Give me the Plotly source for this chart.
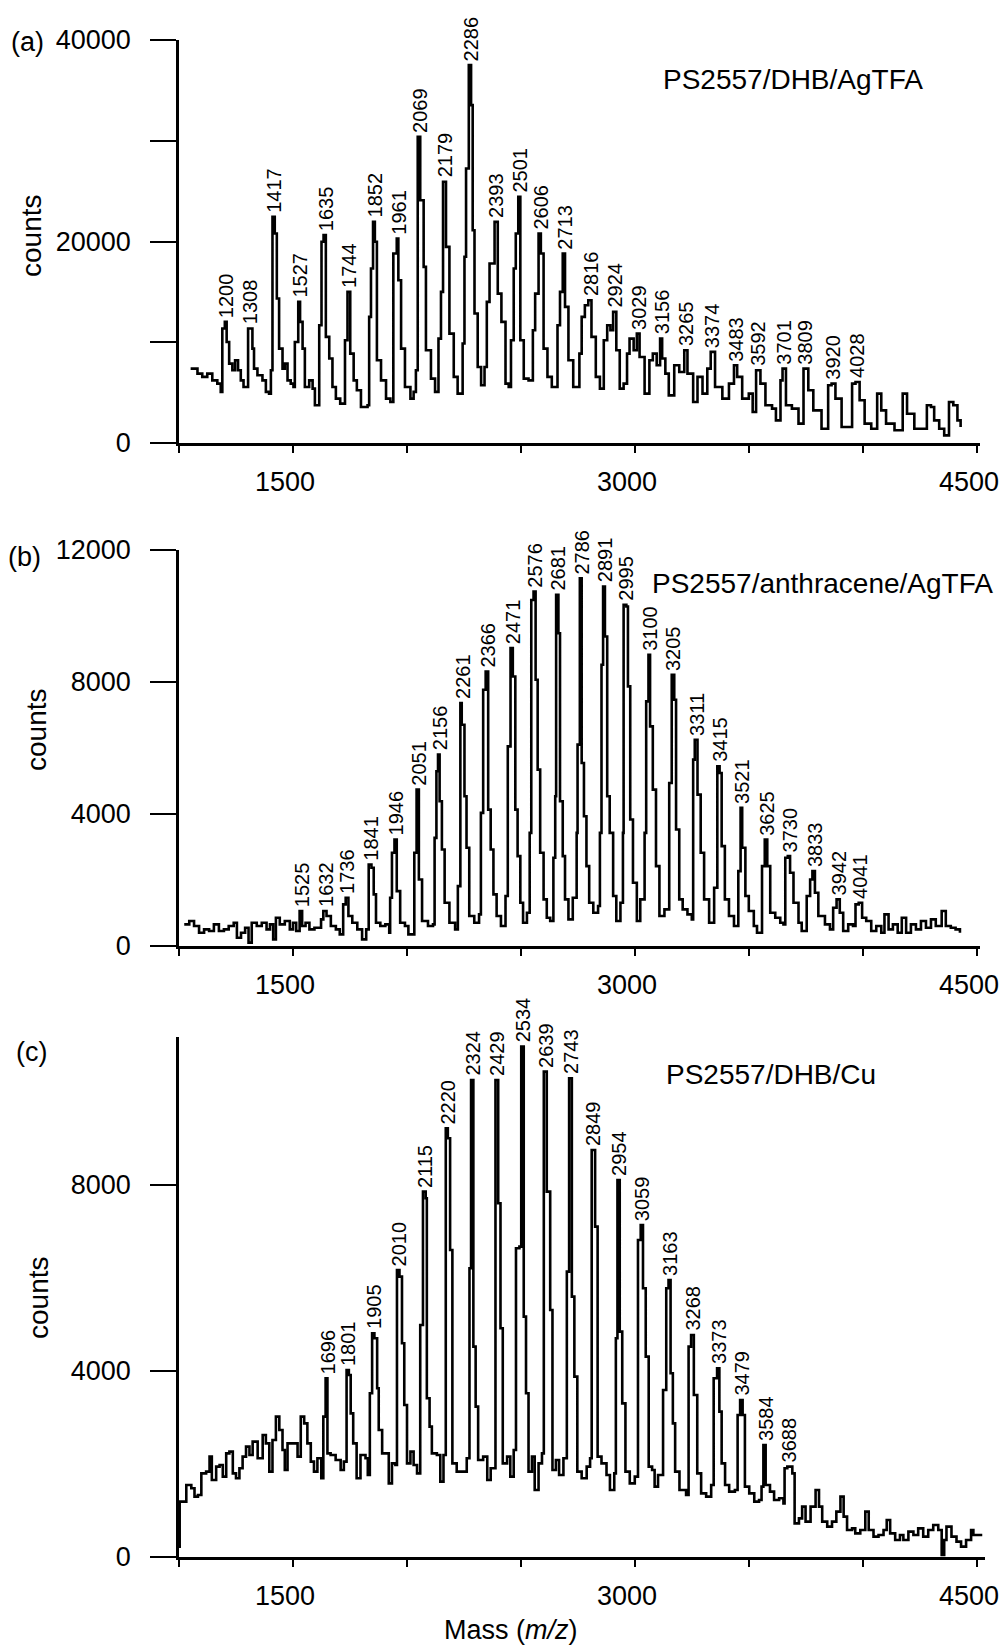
import plotly.graph_objects as go

W, H = 1002, 1646
FONT = "Liberation Sans, Arial, Helvetica, sans-serif"

def px(x):
    return x / W

def py(y):
    return 1 - y / H

# ---------------- Panel (a): PS2557/DHB/AgTFA ----------------
mass_a = [1051, 1081, 1102, 1124, 1146, 1168, 1183, 1190, 1201, 1209, 1220, 1234, 1246, 1259, 1271, 1283,
          1303, 1322, 1329, 1344, 1366, 1381, 1395, 1403, 1410, 1420, 1429, 1439, 1454, 1464, 1476, 1490,
          1502, 1508, 1523, 1531, 1542, 1552, 1571, 1586, 1596, 1615, 1625, 1634, 1644, 1659, 1673, 1688,
          1707, 1728, 1739, 1751, 1766, 1780, 1798, 1827, 1834, 1842, 1851, 1859, 1868, 1886, 1908, 1927,
          1940, 1955, 1962, 1974, 1991, 2015, 2029, 2039, 2047, 2058, 2073, 2083, 2105, 2123, 2138, 2149,
          2158, 2171, 2186, 2205, 2222, 2244, 2252, 2259, 2271, 2281, 2288, 2296, 2310, 2325, 2340, 2350,
          2362, 2384, 2398, 2414, 2432, 2446, 2456, 2468, 2477, 2488, 2497, 2512, 2533, 2552, 2562, 2577,
          2587, 2599, 2616, 2635, 2660, 2671, 2683, 2693, 2708, 2729, 2756, 2766, 2780, 2795, 2809, 2828,
          2846, 2863, 2878, 2892, 2904, 2918, 2933, 2950, 2965, 2976, 2994, 3008, 3020, 3042, 3063, 3078,
          3095, 3110, 3119, 3133, 3148, 3172, 3194, 3216, 3230, 3255, 3274, 3296, 3317, 3332, 3351, 3383,
          3412, 3434, 3448, 3470, 3499, 3516, 3531, 3550, 3572, 3601, 3618, 3638, 3647, 3662, 3688, 3717,
          3739, 3760, 3782, 3818, 3847, 3862, 3879, 3906, 3927, 3952, 3967, 3985, 4007, 4036, 4062, 4080,
          4101, 4138, 4174, 4193, 4225, 4261, 4280, 4298, 4312, 4334, 4356, 4377, 4396, 4414, 4428]
counts_a = [7380, 6890, 6560, 6890, 6220, 5890, 5070, 11360, 12020, 10030, 7880, 7220, 8210, 7220, 6220, 5560,
            11360, 9370, 7380, 6720, 6220, 5070, 4900, 7220, 22450, 20790, 14340, 9370, 7380, 7880, 6220, 5890,
            5560, 10030, 14010, 12020, 9370, 5560, 6220, 5400, 3740, 11690, 19970, 20630, 10530, 8380, 5560, 4400,
            3910, 10200, 15000, 8870, 6220, 5230, 3580, 3740, 12520, 17320, 21950, 19970, 8210, 6220, 4400, 4070,
            18810, 20300, 16160, 9370, 5560, 4400, 5070, 7220, 30400, 24100, 17480, 9200, 6390, 5070, 10360, 15000,
            25930, 19470, 10860, 6560, 4900, 9870, 18480, 27250, 37510, 33540, 21120, 12850, 7550, 5730, 7550, 14010,
            17810, 21950, 14830, 12020, 5890, 5560, 10200, 17320, 20790, 24440, 10200, 6390, 6220, 11190, 14830, 20790,
            18810, 9370, 6560, 5560, 11690, 15000, 18810, 13510, 8210, 5560, 8870, 12520, 13670, 14170, 10530, 6560,
            5400, 10200, 11690, 11190, 13010, 9200, 5400, 5890, 8870, 10360, 9200, 10860, 8540, 4900, 8210, 8870,
            7710, 10360, 8380, 6890, 4730, 7710, 7050, 9200, 6890, 4070, 6560, 4900, 7380, 9040, 5560, 4400,
            5890, 7710, 6560, 4400, 4900, 3080, 7220, 5890, 3740, 3410, 2250, 6220, 7380, 3740, 3410, 1920,
            7380, 5230, 3240, 1420, 5730, 5890, 4400, 1590, 1590, 5890, 6060, 4240, 1920, 1420, 4900, 3240,
            1920, 1260, 4900, 2910, 1420, 1420, 3740, 3580, 2250, 1420, 760, 4070, 3740, 2250, 1590]
labels_a = ["1200", "1308", "1417", "1527", "1635", "1744", "1852", "1961", "2069", "2179", "2286", "2393",
            "2501", "2606", "2713", "2816", "2924", "3029", "3156", "3265", "3374", "3483", "3592", "3701",
            "3809", "3920", "4028"]
label_x_a = [1201, 1303, 1410, 1523, 1634, 1739, 1851, 1955, 2047, 2158, 2271, 2384,
             2488, 2577, 2683, 2795, 2904, 3008, 3110, 3216, 3332, 3434, 3531, 3647,
             3739, 3862, 3967]
label_y_a = [12020, 11360, 22450, 14010, 20630, 15000, 21950, 20300, 30400, 25930, 37510, 21950,
             24440, 20790, 18810, 14170, 13010, 10860, 10360, 9200, 9040, 7710, 7220, 7380,
             7380, 5890, 6060]

# ---------------- Panel (b): PS2557/anthracene/AgTFA ----------------
mass_b = [1023, 1045, 1066, 1088, 1110, 1132, 1153, 1175, 1197, 1218, 1240, 1254, 1272, 1290, 1305, 1319,
          1341, 1363, 1384, 1399, 1413, 1425, 1442, 1464, 1486, 1500, 1514, 1529, 1540, 1555, 1572, 1594,
          1623, 1633, 1647, 1666, 1688, 1705, 1720, 1731, 1743, 1760, 1782, 1803, 1821, 1832, 1844, 1854,
          1864, 1883, 1905, 1922, 1926, 1934, 1945, 1955, 1970, 1991, 2006, 2032, 2042, 2052, 2066, 2092,
          2114, 2121, 2129, 2136, 2143, 2153, 2165, 2186, 2211, 2223, 2234, 2240, 2252, 2261, 2273, 2295,
          2316, 2324, 2334, 2345, 2356, 2367, 2379, 2393, 2412, 2432, 2442, 2454, 2464, 2475, 2485, 2497,
          2509, 2526, 2538, 2545, 2555, 2564, 2573, 2584, 2599, 2613, 2628, 2642, 2650, 2654, 2664, 2671,
          2683, 2693, 2708, 2727, 2744, 2748, 2758, 2766, 2776, 2787, 2799, 2817, 2838, 2846, 2853, 2860,
          2868, 2878, 2889, 2904, 2918, 2936, 2947, 2950, 2962, 2969, 2979, 2991, 3008, 3023, 3042, 3049,
          3059, 3066, 3078, 3092, 3107, 3129, 3150, 3161, 3172, 3180, 3194, 3209, 3230, 3249, 3255, 3262,
          3274, 3288, 3303, 3325, 3347, 3361, 3371, 3380, 3394, 3412, 3434, 3453, 3463, 3470, 3484, 3499,
          3521, 3535, 3557, 3569, 3580, 3593, 3615, 3637, 3651, 3659, 3670, 3680, 3695, 3717, 3731, 3753,
          3768, 3778, 3789, 3804, 3833, 3855, 3869, 3884, 3898, 3913, 3935, 3956, 3967, 3981, 3996, 4014,
          4036, 4058, 4080, 4094, 4112, 4131, 4152, 4170, 4189, 4210, 4232, 4254, 4276, 4298, 4319, 4345,
          4363, 4385, 4406, 4425]
counts_b = [655, 756, 605, 403, 504, 454, 655, 454, 504, 605, 706, 252, 403, 555, 101, 706,
            605, 706, 504, 655, 202, 857, 655, 756, 504, 706, 454, 1059, 605, 706, 504, 555,
            807, 1059, 908, 605, 504, 353, 1261, 1462, 908, 706, 504, 202, 504, 2471, 2370, 1563,
            706, 605, 655, 403, 1462, 2824, 3227, 1664, 706, 605, 353, 2824, 4740, 2017, 756, 605,
            655, 3277, 5294, 5798, 4387, 2924, 1311, 706, 504, 1815, 7361, 6706, 4538, 2975, 908, 706,
            958, 4034, 7765, 8320, 4134, 2924, 1563, 908, 605, 1513, 6050, 9025, 8168, 4134, 2723, 1311,
            706, 1008, 3429, 10487, 10740, 8067, 5345, 2824, 1412, 857, 756, 2672, 4538, 10639, 9479, 4387,
            2723, 1412, 807, 1462, 3429, 6101, 11143, 5546, 3933, 2420, 1311, 1008, 1210, 3429, 8521, 10891,
            9378, 4538, 3429, 1513, 756, 1311, 3429, 10336, 10286, 7866, 3832, 1916, 756, 1412, 3429, 7412,
            8823, 6655, 4740, 2420, 908, 1109, 4941, 8218, 7462, 3529, 1412, 1109, 958, 807, 5647, 6252,
            4588, 2824, 1412, 706, 1765, 5445, 5244, 3025, 1412, 908, 605, 2269, 4185, 2975, 1513, 1059,
            605, 403, 2420, 3227, 2420, 1008, 857, 706, 655, 2672, 2723, 2218, 1311, 706, 454, 1513,
            2017, 2269, 1613, 908, 655, 504, 1160, 1412, 1008, 454, 655, 605, 1261, 1311, 857, 756,
            454, 605, 403, 958, 504, 655, 403, 857, 403, 655, 504, 756, 555, 807, 605, 1059,
            605, 555, 504, 403]
labels_b = ["1525", "1632", "1736", "1841", "1946", "2051", "2156", "2261", "2366", "2471", "2576", "2681",
            "2786", "2891", "2995", "3100", "3205", "3311", "3415", "3521", "3625", "3730", "3833", "3942",
            "4041"]
label_x_b = [1529, 1633, 1731, 1832, 1945, 2042, 2136, 2234, 2345, 2454, 2555, 2654,
             2758, 2860, 2953, 3059, 3161, 3262, 3364, 3463, 3569, 3670, 3778, 3884,
             3981]
label_y_b = [1059, 1059, 1462, 2471, 3227, 4740, 5798, 7361, 8320, 9025, 10740, 10639,
             11143, 10891, 10336, 8823, 8218, 6252, 5445, 4185, 3227, 2723, 2269, 1412,
             1311]

# ---------------- Panel (c): PS2557/DHB/Cu ----------------
mass_c = [1000, 1003, 1032, 1054, 1068, 1083, 1098, 1119, 1134, 1144, 1163, 1178, 1192, 1207, 1221, 1236,
          1250, 1265, 1279, 1294, 1309, 1323, 1345, 1367, 1381, 1396, 1410, 1425, 1440, 1454, 1464, 1476,
          1498, 1520, 1534, 1549, 1563, 1578, 1592, 1607, 1624, 1633, 1643, 1651, 1665, 1687, 1709, 1723,
          1735, 1745, 1753, 1764, 1779, 1796, 1818, 1828, 1837, 1847, 1857, 1869, 1876, 1891, 1905, 1920,
          1934, 1949, 1956, 1967, 1978, 1988, 2000, 2015, 2029, 2044, 2058, 2070, 2082, 2087, 2099, 2109,
          2131, 2146, 2160, 2170, 2179, 2189, 2199, 2218, 2247, 2262, 2274, 2281, 2291, 2301, 2312, 2334,
          2352, 2367, 2388, 2400, 2410, 2420, 2439, 2453, 2468, 2478, 2493, 2501, 2512, 2522, 2533, 2548,
          2560, 2577, 2592, 2600, 2613, 2628, 2638, 2653, 2667, 2686, 2701, 2711, 2723, 2734, 2747, 2766,
          2788, 2803, 2810, 2825, 2836, 2853, 2875, 2890, 2909, 2916, 2923, 2933, 2944, 2958, 2977, 2999,
          3013, 3025, 3035, 3047, 3060, 3075, 3086, 3101, 3123, 3137, 3147, 3156, 3166, 3176, 3195, 3224,
          3235, 3246, 3258, 3273, 3290, 3312, 3334, 3345, 3360, 3370, 3380, 3395, 3413, 3438, 3450, 3461,
          3472, 3482, 3501, 3523, 3544, 3555, 3563, 3573, 3592, 3610, 3632, 3651, 3656, 3668, 3690, 3700,
          3719, 3733, 3748, 3770, 3792, 3807, 3821, 3843, 3864, 3883, 3901, 3915, 3930, 3952, 3966, 3988,
          4010, 4025, 4046, 4068, 4090, 4104, 4119, 4141, 4162, 4177, 4199, 4221, 4242, 4264, 4286, 4308,
          4330, 4345, 4356, 4366, 4388, 4410, 4430, 4452, 4474, 4484, 4504, 4523]
counts_c = [222, 1190, 1548, 1477, 1297, 1333, 1799, 1835, 2158, 1656, 1943, 1978, 1727, 2229, 2265, 1799,
            1692, 1907, 2158, 2373, 2193, 2480, 2122, 2623, 2444, 1835, 2516, 3018, 2731, 2301, 1871, 2444,
            2444, 2158, 3018, 2874, 2444, 2050, 1835, 2122, 1692, 3018, 3842, 2229, 2193, 2086, 1871, 2050,
            4021, 3914, 3089, 2444, 1692, 2193, 2122, 1763, 3520, 4810, 4702, 3627, 2731, 2229, 2229, 1584,
            2014, 1978, 6172, 6028, 4595, 3269, 2014, 2265, 1978, 1799, 4989, 7856, 7713, 3412, 2803, 2229,
            2193, 1620, 2193, 9218, 9003, 6602, 2014, 1835, 1835, 2122, 6207, 10257, 4523, 3233, 2086, 2158,
            1656, 1907, 10257, 7605, 4917, 2014, 2158, 1727, 2301, 6638, 6674, 10974, 5168, 3520, 1835, 2158,
            1441, 2014, 2229, 10436, 7856, 5311, 1871, 2086, 1763, 2122, 6136, 10293, 5598, 3878, 1835, 1692,
            1943, 2122, 8752, 7103, 2158, 2014, 1763, 1441, 1799, 4702, 8107, 4846, 3304, 1835, 1584, 1727,
            6817, 7139, 5777, 4308, 1943, 1871, 1512, 1763, 3591, 5777, 5957, 3950, 2874, 1835, 1441, 1333,
            4523, 4774, 3484, 1799, 1369, 1297, 1548, 3842, 4057, 3125, 2014, 1548, 1405, 1441, 3054, 3376,
            3054, 1512, 1369, 1190, 1226, 1512, 2408, 1548, 1405, 1226, 1262, 1154, 1907, 1943, 1799, 724,
            831, 1082, 760, 1082, 1441, 1082, 760, 652, 760, 975, 1297, 867, 581, 616, 509, 581,
            975, 581, 437, 473, 581, 796, 509, 366, 473, 366, 545, 473, 616, 437, 581, 688,
            581, 43, 366, 652, 437, 330, 222, 366, 581, 473, 473, 473]
labels_c = ["1696", "1801", "1905", "2010", "2115", "2220", "2324", "2429", "2534", "2639", "2743", "2849",
            "2954", "3059", "3163", "3268", "3373", "3479", "3584", "3688"]
label_x_c = [1643, 1735, 1847, 1956, 2070, 2170, 2281, 2388, 2501, 2600, 2711, 2810,
             2923, 3025, 3147, 3246, 3360, 3461, 3563, 3668]
label_y_c = [3842, 4021, 4810, 6172, 7856, 9218, 10257, 10257, 10974, 10436, 10293, 8752,
             8107, 7139, 5957, 4774, 4057, 3376, 2408, 1943]

# ---------------- Axis tick definitions ----------------
x_tickvals = [1000, 1500, 2000, 2500, 3000, 3500, 4000, 4500]
x_ticktext = ["", "1500", "", "", "3000", "", "", "4500"]
ya_tickvals = [0, 10000, 20000, 30000, 40000]
ya_ticktext = ["0", "", "20000", "", "40000"]
yb_tickvals = [0, 4000, 8000, 12000]
yb_ticktext = ["0", "4000", "8000", "12000"]
yc_tickvals = [0, 4000, 8000]
yc_ticktext = ["0", "4000", "8000"]

panel_titles = ["PS2557/DHB/AgTFA", "PS2557/anthracene/AgTFA", "PS2557/DHB/Cu"]
panel_tags = ["(a)", "(b)", "(c)"]

fig = go.Figure()
line_style = dict(color="black", width=2.6, shape="hv")
fig.add_trace(go.Scatter(x=mass_a, y=counts_a, mode="lines", line=line_style, xaxis="x", yaxis="y",
                         hoverinfo="skip"))
fig.add_trace(go.Scatter(x=mass_b, y=counts_b, mode="lines", line=line_style, xaxis="x2", yaxis="y2",
                         hoverinfo="skip"))
fig.add_trace(go.Scatter(x=mass_c, y=counts_c, mode="lines", line=line_style, xaxis="x3", yaxis="y3",
                         hoverinfo="skip"))

def xax(domain, rng, anchor):
    return dict(domain=domain, range=rng, anchor=anchor, showline=True, linecolor="black", linewidth=2.5,
                ticks="outside", ticklen=7, tickwidth=2.2, tickcolor="black",
                tickvals=x_tickvals, ticktext=x_ticktext, showgrid=False, zeroline=False,
                tickfont=dict(family=FONT, size=27, color="black"), ticklabelstandoff=6,
                ticklabelshift=-8, ticklabeloverflow="allow", automargin=False, fixedrange=True)

def yax(domain, rng, anchor, tv, tt):
    return dict(domain=domain, range=rng, anchor=anchor, showline=True, linecolor="black", linewidth=2.5,
                ticks="outside", ticklen=26, tickwidth=2.2, tickcolor="black",
                tickvals=tv, ticktext=tt, showgrid=False, zeroline=False,
                tickfont=dict(family=FONT, size=27, color="black"), ticklabelstandoff=14,
                automargin=False, fixedrange=True)

layout = dict(
    width=W, height=H, autosize=False,
    margin=dict(l=0, r=0, t=0, b=0, pad=0, autoexpand=False),
    paper_bgcolor="white", plot_bgcolor="white",
    showlegend=False,
    font=dict(family=FONT, color="black"),
    xaxis=xax([px(179), px(980)], [1000, 4513], "y"),
    yaxis=yax([py(443), py(40)], [0, 40000], "x", ya_tickvals, ya_ticktext),
    xaxis2=xax([px(179), px(980)], [1000, 4513], "y2"),
    yaxis2=yax([py(946), py(550)], [0, 12000], "x2", yb_tickvals, yb_ticktext),
    xaxis3=xax([px(179), px(985)], [1000, 4535], "y3"),
    yaxis3=yax([py(1557), py(1037)], [0, 11180], "x3", yc_tickvals, yc_ticktext),
)
fig.update_layout(**layout)

ann = []
# peak labels
for labs, xs, ys, xr, yr in [(labels_a, label_x_a, label_y_a, "x", "y"),
                             (labels_b, label_x_b, label_y_b, "x2", "y2"),
                             (labels_c, label_x_c, label_y_c, "x3", "y3")]:
    for t, xv, yv in zip(labs, xs, ys):
        ann.append(dict(text=t, x=xv, y=yv, xref=xr, yref=yr, showarrow=False, textangle=-90,
                        xanchor="center", yanchor="bottom", yshift=3, xshift=2, borderpad=0,
                        font=dict(family=FONT, size=20, color="black")))

# panel tags, titles, y-axis titles
tag_pos = [(27, 42), (24, 557), (31, 1052)]
title_pos = [(793, 80), (822, 584), (771, 1074)]
counts_pos = [(32, 235), (36, 730), (38, 1298)]
for i in range(3):
    ann.append(dict(text=panel_tags[i], x=px(tag_pos[i][0]), y=py(tag_pos[i][1]), xref="paper", yref="paper",
                    showarrow=False, xanchor="center", yanchor="middle",
                    font=dict(family=FONT, size=27, color="black")))
    ann.append(dict(text=panel_titles[i], x=px(title_pos[i][0]), y=py(title_pos[i][1]), xref="paper",
                    yref="paper", showarrow=False, xanchor="center", yanchor="middle",
                    font=dict(family=FONT, size=28, color="black")))
    ann.append(dict(text="counts", x=px(counts_pos[i][0]), y=py(counts_pos[i][1]), xref="paper",
                    yref="paper", showarrow=False, textangle=-90, xanchor="center", yanchor="middle",
                    font=dict(family=FONT, size=28, color="black")))

ann.append(dict(text="Mass (<i>m/z</i>)", x=px(511), y=py(1630), xref="paper", yref="paper",
                showarrow=False, xanchor="center", yanchor="middle",
                font=dict(family=FONT, size=27, color="black")))

fig.update_layout(annotations=ann)
fig.write_html("out.html", config={"displayModeBar": False, "responsive": False})
